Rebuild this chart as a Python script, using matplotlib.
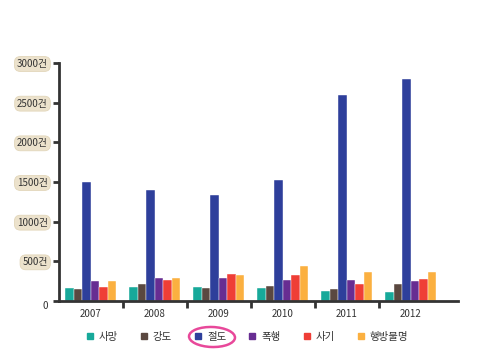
import matplotlib
matplotlib.use('Agg')
import matplotlib.pyplot as plt
from matplotlib.lines import Line2D
from matplotlib.patches import Ellipse
import numpy as np

plt.rcParams['font.family'] = ['Noto Sans CJK KR', 'DejaVu Sans']

years = ['2007', '2008', '2009', '2010', '2011', '2012']
series = ['사망', '강도', '절도', '폭행', '사기', '행방불명']
values = {
    '사망': [160, 180, 176, 168, 122, 113],
    '강도': [147, 214, 160, 189, 155, 218],
    '절도': [1500, 1400, 1330, 1530, 2600, 2800],
    '폭행': [252, 286, 294, 264, 260, 248],
    '사기': [172, 260, 344, 332, 210, 281],
    '행방불명': [252, 290, 332, 445, 370, 361],
}
colors = ['#17a99a', '#5a4840', '#2e3f9b', '#672d92', '#ef3e36', '#fbb040']
yticks = [0, 500, 1000, 1500, 2000, 2500, 3000]
ytick_labels = ['', '500건', '1000건', '1500건', '2000건', '2500건', '3000건']

fig = plt.figure(figsize=(4.85, 3.53), dpi=100)
W, H = 485, 353
ax = fig.add_axes([59 / W, 52 / H, (458 - 59) / W, (301 - 63) / H])

bar_w = 8.5 / 64
x = np.arange(len(years))
for k, name in enumerate(series):
    offs = (k - 2.5) * bar_w
    ax.bar(x + 0.5 + offs, values[name], width=bar_w, color=colors[k],
           edgecolor='white', linewidth=0.3)

ax.set_xlim(0, (458 - 59) / 64)
ax.set_ylim(0, 3000)

for s in ['top', 'right']:
    ax.spines[s].set_visible(False)
for s in ['left', 'bottom']:
    ax.spines[s].set_color('#333333')
    ax.spines[s].set_linewidth(2)

ax.set_xticks(np.arange(1, len(years)))
ax.set_xticklabels([])
ax.set_xticks(x + 0.5, minor=True)
ax.set_xticklabels(years, minor=True, fontsize=7, color='#333333')
ax.tick_params(axis='x', which='major', length=5, width=2, color='#333333')
ax.tick_params(axis='x', which='minor', length=0, pad=6)

ax.set_yticks(yticks)
ax.set_yticklabels(ytick_labels, fontsize=7, color='#333333')
ax.tick_params(axis='y', length=4, width=2, color='#333333', pad=4)
for lab in ax.get_yticklabels():
    if lab.get_text():
        lab.set_bbox(dict(boxstyle='round,pad=0.25,rounding_size=0.6',
                          facecolor='#ece2cc', edgecolor='#e2d6ba', linewidth=0.6))
ax.text(-0.035, yticks[0], '0', transform=ax.get_yaxis_transform(),
        ha='center', va='top', fontsize=7, color='#333333')

handles = [Line2D([], [], marker='s', linestyle='none', markersize=4.5,
                  color=c) for c in colors]
fig.legend(handles, series, loc='center', bbox_to_anchor=(0.508, 0.045), ncol=6,
           frameon=False, fontsize=7.5, handletextpad=0.35, columnspacing=2.0,
           handlelength=1.0, labelcolor='#333333')

fig.add_artist(Ellipse((212 / W, 16 / H), 46 / W, 20 / H, transform=fig.transFigure,
                       fill=False, edgecolor='#e8489a', linewidth=1.8, angle=-3))

fig.savefig('out.png', dpi=100)
